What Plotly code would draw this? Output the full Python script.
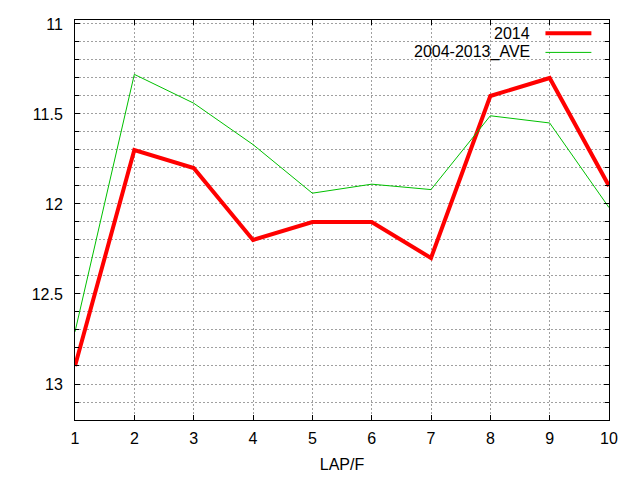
import plotly.graph_objects as go

laps = [1, 2, 3, 4, 5, 6, 7, 8, 9, 10]
times_2014 = [12.9, 11.7, 11.8, 12.2, 12.1, 12.1, 12.3, 11.4, 11.3, 11.9]
times_ave = [12.71, 11.28, 11.44, 11.67, 11.94, 11.89, 11.92, 11.51, 11.55, 12.02]
series_names = ["2014", "2004-2013_AVE"]
series_colours = ["#ff0000", "#00c000"]
series_widths = [4, 1]

fig = go.Figure()
for vals, nm, col, w in zip([times_2014, times_ave], series_names, series_colours, series_widths):
    fig.add_trace(go.Scatter(x=laps, y=vals, mode="lines", name=nm,
                             line=dict(color=col, width=w), showlegend=False))

# gnuplot-like key: text on the left, sample on the right
key_y = [0.967, 0.919]
for i in range(len(series_names)):
    fig.add_annotation(x=0.855, y=key_y[i], xref="paper", yref="paper",
                       text=series_names[i], showarrow=False, xanchor="right",
                       yanchor="middle", font=dict(size=16, color="black"))
    fig.add_shape(type="line", xref="paper", yref="paper",
                  x0=0.881, x1=0.967, y0=key_y[i], y1=key_y[i],
                  line=dict(color=series_colours[i], width=series_widths[i]))

axis_common = dict(showline=True, linecolor="black", linewidth=1, mirror="allticks",
                   ticks="inside", ticklen=5, tickcolor="black", zeroline=False,
                   showgrid=True, gridcolor="#a0a0a0", griddash="2px,2px", gridwidth=1,
                   tickfont=dict(size=16, color="black"))

fig.update_xaxes(range=[1, 10], tickmode="array", tickvals=laps, ticklabelstandoff=4,
                 title=dict(text="LAP/F", font=dict(size=16, color="black"), standoff=12),
                 **axis_common)
fig.update_yaxes(range=[13.2, 10.978], tickmode="array", tickvals=[11, 11.5, 12, 12.5, 13],
                 ticktext=["11", "11.5", "12", "12.5", "13"], ticklabelstandoff=8,
                 minor=dict(dtick=0.1, tick0=11, ticks="inside", ticklen=4, tickcolor="black",
                            showgrid=True, gridcolor="#a0a0a0", griddash="2px,2px", gridwidth=1),
                 **axis_common)

# page body adds an 8px offset, so the margins are shifted to compensate
fig.update_layout(width=640, height=480, margin=dict(l=67, r=39, t=12, b=68, autoexpand=False),
                  plot_bgcolor="white", paper_bgcolor="white",
                  font=dict(family="Liberation Sans, Arial, sans-serif", size=16, color="black"))

fig.write_html("out.html")
